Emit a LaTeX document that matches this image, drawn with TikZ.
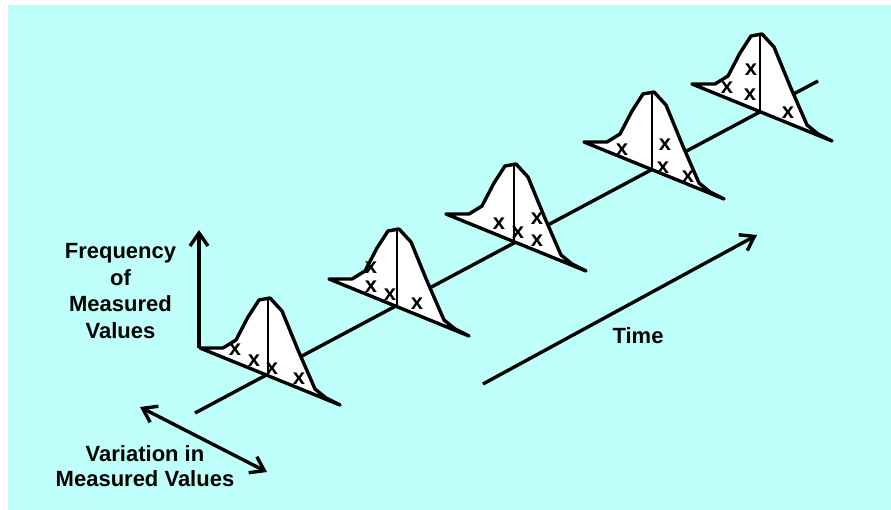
\documentclass[tikz,border=0pt]{standalone}
\usepackage{fontspec}
\setmainfont{Liberation Sans}
\usepackage{xcolor}
\usepackage{tikz}
\usetikzlibrary{arrows.meta,positioning,calc}
\definecolor{fundo}{RGB}{191,255,250}
\tikzset{
    eixo/.style={line width=3.4pt},
    seta/.style={eixo, -{Straight Barb[length=13pt,width=18pt]}},
    setadupla/.style={eixo, {Straight Barb[length=13pt,width=18pt]}-{Straight Barb[length=13pt,width=18pt]}},
    curva/.style={draw, fill=white, line width=3.4pt, line join=round},
    centro/.style={line width=2.2pt},
    rotulo/.style={
        font=\fontsize{22}{25}\selectfont\bfseries,
        align=center,
        inner sep=0pt,
        anchor=north
    },
    marca/.style={font=\fontsize{22}{22}\selectfont\bfseries, inner sep=0pt}
}

\begin{document}
\begin{tikzpicture}[x=1pt, y=-1pt]
        \useasboundingbox (0,0) rectangle (891,510);
        \fill[fundo] (8,5) rectangle (891,510);

        % centros das curvas sobre o eixo do tempo
        \coordinate (c1) at (268,375);
        \coordinate (c2) at (397,306);
        \coordinate (c3) at (514,241);
        \coordinate (c4) at (652,169);
        \coordinate (c5) at (760,111);
        \coordinate (inicioT) at (195,413);
        \coordinate (fimT) at (818,81);

        \draw[eixo] (inicioT) -- (fimT);

        \foreach \c in {c1,c2,c3,c4,c5} {
            \begin{scope}[shift={(\c)}]
                \filldraw[curva] (-68,-27) -- (-45,-27) -- (-32,-35) -- (-20,-58)
                    -- (-9,-75) -- (2,-77) -- (14,-64) -- (30,-25) -- (47,14)
                    -- (58,23) -- (72,30) -- cycle;
                \draw[centro] (0,2) -- (0,-76);
            \end{scope}
        }

        % eixos
        \coordinate (origem) at ($(c1)+(-69,-27)$);
        \coordinate (topo) at (199,230);
        \draw[seta] (origem) -- (topo);
        \coordinate (varA) at (140,407);
        \coordinate (varB) at (267,472);
        \draw[setadupla] (varA) -- (varB);
        \coordinate (tempoA) at (483,384);
        \coordinate (tempoB) at (757,235);
        \draw[seta] (tempoA) -- (tempoB);

        % medidas
        \node[marca] (m11) at (235,350) {x};
        \node[marca] (m12) at (254,361) {x};
        \node[marca] (m13) at (272,369) {x};
        \node[marca] (m14) at (299,379) {x};
        \node[marca] (m21) at (371,268) {x};
        \node[marca] (m22) at (371,287) {x};
        \node[marca] (m23) at (390,295) {x};
        \node[marca] (m24) at (417,304) {x};
        \node[marca] (m31) at (499,224) {x};
        \node[marca] (m32) at (518,233) {x};
        \node[marca] (m33) at (537,219) {x};
        \node[marca] (m34) at (537,241) {x};
        \node[marca] (m41) at (622,150) {x};
        \node[marca] (m42) at (665,145) {x};
        \node[marca] (m43) at (663,168) {x};
        \node[marca] (m44) at (688,177) {x};
        \node[marca] (m51) at (727,88) {x};
        \node[marca] (m52) at (751,70) {x};
        \node[marca] (m53) at (750,95) {x};
        \node[marca] (m54) at (788,113) {x};

        % textos
        \node[rotulo, font=\fontsize{22}{26.7}\selectfont\bfseries] (freq) at (120.5,243)
            {Frequency\\of\\Measured\\Values};
        \node[rotulo] (variacao) at (145,445) {Variation in\\Measured Values};
        \node[rotulo] (tempo) at (638,327) {Time};
    \end{tikzpicture}
\end{document}
